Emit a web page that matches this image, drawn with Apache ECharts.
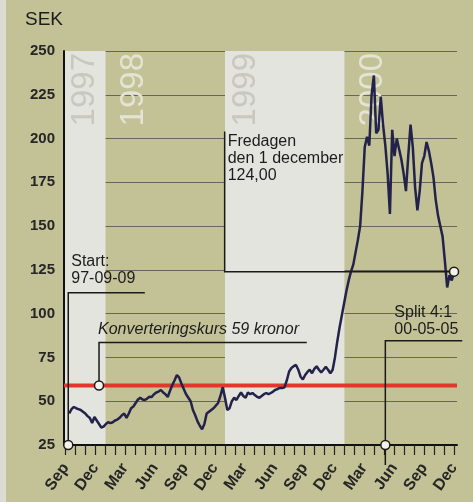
<!DOCTYPE html>
<html>
<head>
<meta charset="utf-8">
<script src="https://cdn.jsdelivr.net/npm/echarts@6/dist/echarts.min.js"></script>
<style>
  html, body { margin: 0; padding: 0; background: #c3c196; }
  #chart { width: 473px; height: 502px; }
</style>
</head>
<body>
<div id="chart"></div>
<script>
// weekly closing prices (SEK), fridays from 1997-09-12 to 2000-12-01
const firstWeek = [1997, 8, 12];
const weeklyClose = [
  43, 45.5, 46.7, 46, 45.5, 45, 44, 43, 41.5, 40.4,
  37.6, 41, 39, 37, 35, 35.5, 37, 38, 37.5, 38,
  39, 39.5, 40.5, 42, 43, 40.5, 43, 46, 47, 49,
  51, 52, 51, 50.7, 51.5, 52.5, 52.4, 54, 55, 55.5,
  56.4, 55, 54, 52.4, 56, 59.3, 62, 65, 63.5, 60,
  57, 54, 52, 50, 45, 42, 38.5, 36, 34, 37,
  43, 44, 45, 46, 47.5, 49, 53, 58, 52, 45,
  46, 50, 52, 50.7, 53, 55, 53, 52, 55, 54,
  54.7, 53.5, 52.5, 52, 53, 54, 54.7, 54, 54.7, 55.5,
  56.5, 57, 57.6, 57.5, 58, 62, 67, 69, 70, 70.7,
  68, 64, 62.5, 65, 66.7, 68, 66, 68.5, 70, 68,
  66.5, 68, 69.6, 68, 66, 68, 75, 84, 92, 99,
  106, 113, 119, 124, 128, 135, 142, 150, 170, 195,
  201, 196, 225, 236, 203, 205, 224, 208, 196, 180,
  157, 205, 190, 200, 194, 188, 180, 170, 190, 208,
  195, 172, 159, 170, 186, 190, 198, 193, 186, 178,
  165, 156, 150, 144, 130, 115, 122, 119, 124
];
const conversionRate = 59;
const monthNames = ['Jan', 'Feb', 'Mar', 'Apr', 'May', 'Jun', 'Jul', 'Aug', 'Sep', 'Oct', 'Nov', 'Dec'];
const years = ['1997', '1998', '1999', '2000'];
const whiteYears = ['1997', '1999'];
const startDate = [1997, 8, 9];
const splitDate = [2000, 4, 5];
const lastDate = [2000, 11, 1];
const lastClose = 124;

const d = (y, m, day) => new Date(y, m, day).getTime();
const xMin = d(1997, 7, 27);
const xMax = d(2000, 11, 10);

const priceData = weeklyClose.map((v, i) =>
  [d(firstWeek[0], firstWeek[1], firstWeek[2] + 7 * i), v]);

const monthTicks = [];
for (let k = 0; k < 40; k++) monthTicks.push(d(1997, 8 + k, 1));
const quarterTicks = monthTicks.filter((t, k) => k % 3 === 0);

const chart = echarts.init(document.getElementById('chart'), null, { renderer: 'canvas' });
const font = '"Liberation Sans", Arial, sans-serif';
const ink = '#1c1c1c';

chart.setOption({
  animation: false,
  backgroundColor: '#c3c196',
  grid: { left: 64, right: 16, top: 51, bottom: 57 },
  xAxis: {
    type: 'value',
    min: xMin,
    max: xMax,
    z: 1,
    axisLine: { show: true, lineStyle: { color: '#111', width: 2 } },
    axisTick: { show: true, customValues: monthTicks, length: 10, lineStyle: { color: '#222', width: 1.2 } },
    axisLabel: {
      customValues: quarterTicks,
      rotate: 55,
      margin: 20,
      fontFamily: font,
      fontSize: 16,
      fontWeight: 'bold',
      color: '#262626',
      formatter: (v) => monthNames[new Date(v).getMonth()]
    },
    splitLine: { show: false }
  },
  yAxis: {
    type: 'value',
    min: 25,
    max: 250,
    interval: 25,
    z: 1,
    axisLine: { show: true, lineStyle: { color: '#111', width: 2 } },
    axisTick: { show: false },
    axisLabel: { fontFamily: font, fontSize: 15, fontWeight: 'bold', color: '#262626', margin: 9 },
    splitLine: { show: true, lineStyle: { color: '#66665a', width: 1 } }
  },
  series: [
    {
      type: 'line',
      name: 'bands',
      z: 0,
      silent: true,
      data: [],
      markArea: {
        silent: true,
        itemStyle: { color: '#e3e4dd' },
        data: [
          [{ xAxis: xMin }, { xAxis: d(1998, 0, 1) }],
          [{ xAxis: d(1999, 0, 1) }, { xAxis: d(2000, 0, 1) }]
        ]
      }
    },
    {
      type: 'line',
      name: 'Konverteringskurs',
      z: 2,
      symbol: 'none',
      lineStyle: { color: '#e0382b', width: 4 },
      data: [[xMin, conversionRate], [xMax, conversionRate]]
    },
    {
      type: 'line',
      name: 'Kurs',
      z: 3,
      symbol: 'none',
      lineStyle: { color: '#22224a', width: 2.5 },
      data: priceData
    }
  ]
});

const px = (t, v) => chart.convertToPixel({ gridIndex: 0 }, [t, v]);
const lineStyle = { stroke: '#1a1a1a', lineWidth: 1.5, fill: null };
const graphics = [];

function poly(points) {
  graphics.push({ type: 'polyline', z: 20, shape: { points }, style: lineStyle });
}
function dot(p) {
  graphics.push({ type: 'circle', z: 22, shape: { cx: p[0], cy: p[1], r: 4.5 },
    style: { fill: '#f3f3ec', stroke: '#1a1a1a', lineWidth: 1.5 } });
}
function label(x, y, text, extra) {
  graphics.push({ type: 'text', z: 21, x, y,
    style: Object.assign({ text, fontFamily: font, fontSize: 16, fill: ink, lineHeight: 17,
      verticalAlign: 'top', align: 'left' }, extra || {}) });
}

// title
label(25, 11, 'SEK', { fontSize: 19 });

// year labels in the bands
years.forEach((y) => {
  const start = Math.max(d(+y, 0, 1), xMin);
  const white = whiteYears.indexOf(y) >= 0;
  const p = px(start, 250);
  graphics.push({ type: 'text', z: 1, x: p[0] + (white ? 4 : 12), y: p[1] + 2, rotation: Math.PI / 2,
    style: { text: y, fontFamily: font, fontSize: 33, fill: white ? '#c8c8c1' : '#e4e4d4',
      align: 'right', verticalAlign: 'top' } });
});

// Start
const s0 = px(d(startDate[0], startDate[1], startDate[2]), 25);
const s1 = px(d(startDate[0], startDate[1], startDate[2]), 112);
const s2 = px(d(1998, 4, 1), 112);
poly([s0, s1, s2]);
dot(s0);
label(s1[0] + 3, s1[1] - 40, 'Start:\n97-09-09');

// Konverteringskurs
const k0 = px(d(1997, 11, 12), conversionRate);
const k1 = px(d(1997, 11, 12), 83.5);
const k2 = px(d(1999, 8, 8), 83.5);
poly([k0, k1, k2]);
dot(k0);
label(k1[0] - 1, k1[1] - 22, 'Konverteringskurs 59 kronor', { fontStyle: 'italic' });

// Fredagen den 1 december
const f0 = px(d(lastDate[0], lastDate[1], lastDate[2]), lastClose);
const f1 = px(d(1998, 11, 31), lastClose);
const f2 = px(d(1998, 11, 31), 204);
poly([f0, f1, f2]);
dot(f0);
label(f2[0] + 3, f2[1] + 2, 'Fredagen\nden 1 december\n124,00');

// Split
const p0 = px(d(splitDate[0], splitDate[1], splitDate[2]), 25);
const p1 = px(d(splitDate[0], splitDate[1], splitDate[2]), 84.5);
const p2 = px(d(2000, 11, 26), 84.5);
poly([[p0[0], p0[1] + 20], p1, p2]);
dot(p0);
label(p1[0] + 9, p1[1] - 37, 'Split 4:1\n00-05-05');

// paper edge
graphics.push({ type: 'rect', z: 0, shape: { x: 0, y: 0, width: 6, height: 502 }, style: { fill: '#dcdcd2' } });

chart.setOption({ graphic: graphics });
</script>
</body>
</html>
